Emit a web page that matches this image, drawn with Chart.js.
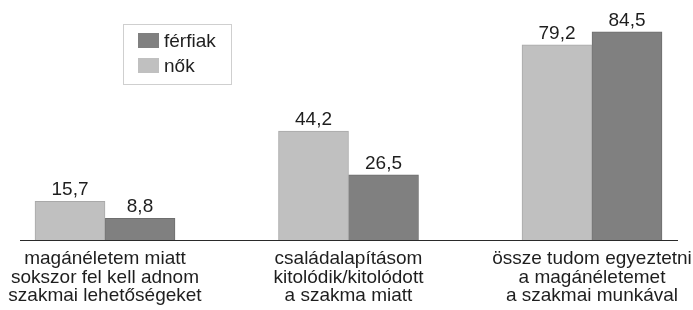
<!DOCTYPE html>
<html lang="hu">
<head>
<meta charset="utf-8">
<script src="https://cdn.jsdelivr.net/npm/chart.js@4"></script>
<style>
  html, body { margin: 0; padding: 0; background: #fff; }
  #wrap { width: 693px; height: 310px; }
</style>
</head>
<body>
<div id="wrap"><canvas id="chart" width="693" height="310"></canvas></div>
<script>
// データ
const categories = [
  ["magánéletem miatt", "sokszor fel kell adnom", "szakmai lehetőségeket"],
  ["családalapításom", "kitolódik/kitolódott", "a szakma miatt"],
  ["össze tudom egyeztetni", "a magánéletemet", "a szakmai munkával"]
];
const nokValues = [15.7, 44.2, 79.2];
const ferfiakValues = [8.8, 26.5, 84.5];
const seriesLabels = ["nők", "férfiak"];

const FONT = "'Liberation Sans', Arial, sans-serif";
const TEXT_COLOR = "#1e1e1e";

// 値ラベル（小数点はカンマ）
const valueLabels = {
  id: "valueLabels",
  afterDatasetsDraw(chart) {
    const ctx = chart.ctx;
    ctx.save();
    ctx.font = "19px " + FONT;
    ctx.fillStyle = TEXT_COLOR;
    ctx.textAlign = "center";
    ctx.textBaseline = "alphabetic";
    chart.data.datasets.forEach((ds, i) => {
      chart.getDatasetMeta(i).data.forEach((bar, j) => {
        const txt = ds.data[j].toFixed(1).replace(".", ",");
        ctx.fillText(txt, bar.x, bar.y - 6);
      });
    });
    ctx.restore();
  }
};

// 横軸の線（グラフ領域より広く引く）
const baseLine = {
  id: "baseLine",
  afterDatasetsDraw(chart) {
    const ctx = chart.ctx;
    const y = Math.round(chart.scales.y.getPixelForValue(0)) + 0.5;
    ctx.save();
    ctx.strokeStyle = "#2a2a2a";
    ctx.lineWidth = 1.2;
    ctx.beginPath();
    ctx.moveTo(20, y);
    ctx.lineTo(678, y);
    ctx.stroke();
    ctx.restore();
  }
};

// 凡例（枠付き、férfiak が上）
const boxLegend = {
  id: "boxLegend",
  afterDraw(chart) {
    const ctx = chart.ctx;
    ctx.save();
    ctx.strokeStyle = "#cfcfcf";
    ctx.lineWidth = 1;
    ctx.strokeRect(123.5, 24.5, 108, 60);
    ctx.font = "19px " + FONT;
    ctx.textBaseline = "alphabetic";
    ctx.textAlign = "left";
    const order = [1, 0];
    order.forEach((dsIndex, k) => {
      const ds = chart.data.datasets[dsIndex];
      const top = 33 + k * 25;
      ctx.fillStyle = ds.backgroundColor;
      ctx.fillRect(138, top, 21, 15);
      ctx.fillStyle = TEXT_COLOR;
      ctx.fillText(ds.label, 164, top + 14);
    });
    ctx.restore();
  }
};

const ctx = document.getElementById("chart").getContext("2d");
const chart = new Chart(ctx, {
  type: "bar",
  data: {
    labels: categories,
    datasets: [{
      label: seriesLabels[0],
      data: nokValues,
      backgroundColor: "#c0c0c0",
      borderColor: "#a9a9a9",
      borderWidth: 1,
      barThickness: 70,
      clip: false
    }, {
      label: seriesLabels[1],
      data: ferfiakValues,
      backgroundColor: "#808080",
      borderColor: "#6e6e6e",
      borderWidth: 1,
      barThickness: 70,
      clip: false
    }]
  },
  options: {
    responsive: false,
    animation: false,
    layout: {
      padding: { left: 105, right: 101, top: 0, bottom: -5 }
    },
    plugins: {
      legend: { display: false },
      tooltip: { enabled: false }
    },
    scales: {
      x: {
        offset: false,
        grid: { display: false, drawTicks: false },
        border: { display: false },
        ticks: {
          padding: 10,
          autoSkip: false,
          maxRotation: 0,
          color: TEXT_COLOR,
          font: { family: FONT, size: 19, lineHeight: "18.3px" }
        },
        // ラベルのはみ出しでグラフ幅が縮まないようにする
        afterFit(scale) {
          scale.paddingLeft = 0;
          scale.paddingRight = 0;
        }
      },
      y: {
        display: false,
        min: 0,
        max: 97.4
      }
    }
  },
  plugins: [valueLabels, baseLine, boxLegend]
});
</script>
</body>
</html>
